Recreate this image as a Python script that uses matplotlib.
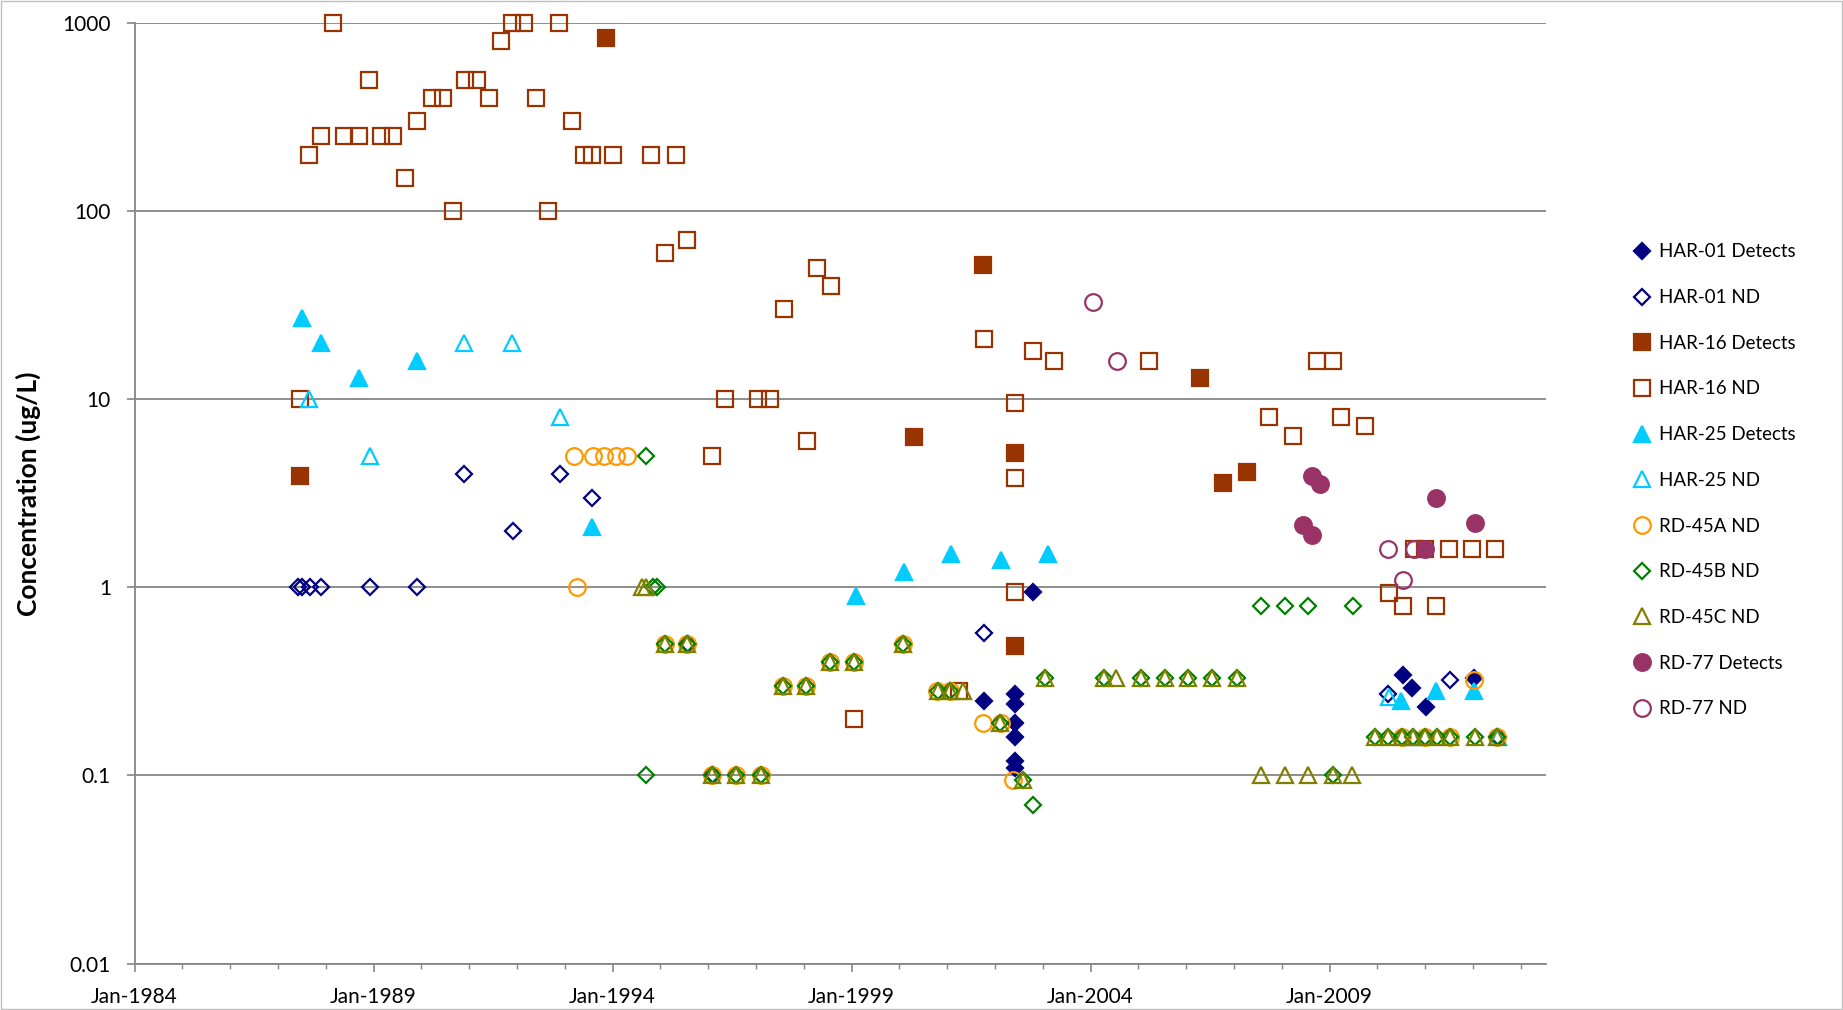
import matplotlib
matplotlib.use("Agg")
import matplotlib.pyplot as plt
from matplotlib.ticker import FixedLocator, FuncFormatter, NullLocator
from matplotlib.patches import Rectangle

plt.rcParams['font.family'] = ['Lato', 'DejaVu Sans']

# sample dates as decimal years, concentrations in ug/L
har01_det_yr = [2001.77, 2002.42, 2002.42, 2002.42, 2002.42, 2002.42, 2002.42, 2002.79,
                2010.54, 2010.73, 2011.01, 2012.03]
har01_det_val = [0.25, 0.27, 0.24, 0.19, 0.16, 0.12, 0.11, 0.94, 0.34, 0.29, 0.23, 0.33]

har01_nd_yr = [1987.43, 1987.50, 1987.68, 1987.91, 1988.92, 1989.91, 1990.90, 1991.91,
               1992.90, 1993.56, 1995.57, 1996.10, 2001.77, 2010.23, 2011.52, 2012.52]
har01_nd_val = [1, 1, 1, 1, 1, 1, 4, 2, 4, 3, 0.5, 0.1, 0.57, 0.27, 0.32, 0.16]

har16_det_yr = [1987.46, 1993.86, 2000.30, 2001.76, 2002.42, 2002.42, 2006.29, 2006.77, 2007.28]
har16_det_val = [3.9, 830, 6.3, 52, 5.2, 0.49, 13, 3.6, 4.1]

har16_nd_yr = [1987.47, 1987.66, 1987.90, 1988.16, 1988.38, 1988.70, 1988.91, 1989.15,
               1989.40, 1989.66, 1989.91, 1990.23, 1990.46, 1990.67, 1990.92, 1991.17,
               1991.41, 1991.66, 1991.90, 1992.14, 1992.40, 1992.66, 1992.89, 1993.16,
               1993.41, 1993.57, 1994.01, 1994.81, 1995.33, 1995.09, 1995.55, 1996.09,
               1996.35, 1997.05, 1997.29, 1997.59, 1998.06, 1998.28, 1998.58, 1999.05,
               2001.24, 2001.77, 2002.42, 2002.42, 2002.42, 2002.79, 2003.23, 2005.22,
               2007.73, 2008.24, 2008.73, 2009.08, 2009.23, 2009.74, 2010.25, 2010.54,
               2010.77, 2011.00, 2011.22, 2011.50, 2011.97, 2012.47]
har16_nd_val = [10, 200, 250, 1000, 250, 250, 500, 250,
                250, 150, 300, 400, 400, 100, 500, 500,
                400, 800, 1000, 1000, 400, 100, 1000, 300,
                200, 200, 200, 200, 200, 60, 70, 5,
                10, 10, 10, 30, 6, 50, 40, 0.2,
                0.28, 21, 9.5, 3.8, 0.95, 18, 16, 16,
                8, 6.4, 16, 16, 8, 7.2, 0.93, 0.8,
                1.6, 1.6, 0.8, 1.6, 1.6, 1.6]

har25_det_yr = [1987.51, 1987.90, 1988.70, 1989.91, 1993.56, 1999.09, 2000.09, 2001.08,
                2002.13, 2003.10, 2010.50, 2011.23, 2012.03]
har25_det_val = [27, 20, 13, 16, 2.1, 0.9, 1.2, 1.5, 1.4, 1.5, 0.25, 0.28, 0.28]

har25_nd_yr = [1987.66, 1988.92, 1990.90, 1991.90, 1992.90, 2010.25, 2010.75, 2012.52]
har25_nd_val = [10, 5, 20, 20, 8, 0.26, 0.16, 0.16]

rd45a_nd_yr = [1993.19, 1993.26, 1993.60, 1993.82, 1994.07, 1994.31, 1995.10, 1995.55,
               1996.09, 1996.59, 1997.11, 1997.56, 1998.05, 1998.55, 1999.05, 2000.08,
               2000.78, 2001.05, 2001.76, 2002.12, 2002.38, 2010.51, 2011.00, 2011.52,
               2012.03, 2012.50]
rd45a_nd_val = [5, 1, 5, 5, 5, 5, 0.5, 0.5,
                0.1, 0.1, 0.1, 0.3, 0.3, 0.4, 0.4, 0.5,
                0.28, 0.28, 0.19, 0.19, 0.095, 0.16, 0.16, 0.16,
                0.32, 0.16]

rd45b_nd_yr = [1994.69, 1994.69, 1994.85, 1994.94, 1995.10, 1995.55, 1996.09, 1996.59,
               1997.11, 1997.56, 1998.05, 1998.55, 1999.05, 2000.08, 2000.81, 2001.05,
               2002.10, 2002.58, 2002.80, 2003.05, 2004.28, 2005.05, 2005.55, 2006.04,
               2006.54, 2007.07, 2007.57, 2008.06, 2008.54, 2009.07, 2009.50, 2009.95,
               2010.23, 2010.51, 2010.75, 2011.00, 2011.24, 2011.52, 2012.05, 2012.50]
rd45b_nd_val = [5, 0.1, 1, 1, 0.5, 0.5, 0.1, 0.1,
                0.1, 0.3, 0.3, 0.4, 0.4, 0.5, 0.28, 0.28,
                0.19, 0.095, 0.07, 0.33, 0.33, 0.33, 0.33, 0.33,
                0.33, 0.33, 0.8, 0.8, 0.8, 0.1, 0.8, 0.16,
                0.16, 0.16, 0.16, 0.16, 0.16, 0.16, 0.16, 0.16]

rd45c_nd_yr = [1994.61, 1994.71, 1995.10, 1995.55, 1996.09, 1996.59, 1997.11, 1997.56,
               1998.05, 1998.55, 1999.05, 2000.08, 2000.81, 2001.05, 2001.34, 2002.10,
               2002.58, 2003.05, 2004.28, 2004.53, 2005.05, 2005.55, 2006.04, 2006.54,
               2007.07, 2007.57, 2008.07, 2008.54, 2009.07, 2009.46, 2009.95, 2010.23,
               2010.51, 2010.75, 2011.00, 2011.24, 2011.52, 2012.05, 2012.50]
rd45c_nd_val = [1, 1, 0.5, 0.5, 0.1, 0.1, 0.1, 0.3,
                0.3, 0.4, 0.4, 0.5, 0.28, 0.28, 0.28, 0.19,
                0.095, 0.33, 0.33, 0.33, 0.33, 0.33, 0.33, 0.33,
                0.33, 0.1, 0.1, 0.1, 0.1, 0.1, 0.16, 0.16,
                0.16, 0.16, 0.16, 0.16, 0.16, 0.16, 0.16]

rd77_det_yr = [2008.45, 2008.64, 2008.64, 2008.80, 2011.00, 2011.23, 2012.04]
rd77_det_val = [2.15, 1.9, 3.9, 3.55, 1.6, 3.0, 2.2]

rd77_nd_yr = [2004.06, 2004.55, 2010.23, 2010.54, 2010.77]
rd77_nd_val = [33, 16, 1.6, 1.1, 1.6]

year_ticks = list(range(1984, 2010, 5))
year_minor = list(range(1985, 2014))
conc_ticks = [0.01, 0.1, 1, 10, 100, 1000]

navy = '#000080'
brown = '#993300'
cyan = '#00CCFF'
orange = '#FF9900'
green = '#008000'
olive = '#808000'
plum = '#993366'
grey = '#868686'

series = [
    ('HAR-01 Detects', har01_det_yr, har01_det_val, 'D', navy, True, 8.6),
    ('HAR-01 ND', har01_nd_yr, har01_nd_val, 'D', navy, False, 8.6),
    ('HAR-16 Detects', har16_det_yr, har16_det_val, 's', brown, True, 11),
    ('HAR-16 ND', har16_nd_yr, har16_nd_val, 's', brown, False, 11),
    ('HAR-25 Detects', har25_det_yr, har25_det_val, '^', cyan, True, 11.5),
    ('HAR-25 ND', har25_nd_yr, har25_nd_val, '^', cyan, False, 11.5),
    ('RD-45A ND', rd45a_nd_yr, rd45a_nd_val, 'o', orange, False, 12),
    ('RD-45B ND', rd45b_nd_yr, rd45b_nd_val, 'D', green, False, 8.6),
    ('RD-45C ND', rd45c_nd_yr, rd45c_nd_val, '^', olive, False, 11.5),
    ('RD-77 Detects', rd77_det_yr, rd77_det_val, 'o', plum, True, 12),
    ('RD-77 ND', rd77_nd_yr, rd77_nd_val, 'o', plum, False, 12),
]

fig = plt.figure(figsize=(18.43, 10.10), dpi=100)
ax = fig.add_axes([0.0730, 0.0460, 0.7659, 0.9312])

for label, xs, ys, mk, col, filled, ms in series:
    ax.plot(xs, ys, ls='none', marker=mk, ms=ms, mec=col,
            mfc=col if filled else 'none', mew=1.6, label=label, clip_on=False)

ax.set_yscale('log')
ax.set_ylim(0.01, 1000)
ax.set_xlim(1984, 2013.53)

ax.yaxis.set_major_locator(FixedLocator(conc_ticks))
ax.yaxis.set_minor_locator(NullLocator())
ax.yaxis.set_major_formatter(FuncFormatter(lambda v, p: f"{v:g}"))
ax.xaxis.set_major_locator(FixedLocator(year_ticks))
ax.xaxis.set_minor_locator(FixedLocator(year_minor))
ax.xaxis.set_major_formatter(FuncFormatter(lambda v, p: f"Jan-{int(round(v))}"))

ax.yaxis.grid(True, which='major', color=grey, lw=1.3)
ax.set_axisbelow(True)
for s in ['top', 'right']:
    ax.spines[s].set_visible(False)
for s in ['left', 'bottom']:
    ax.spines[s].set_color(grey)
    ax.spines[s].set_linewidth(1.3)

ax.tick_params(axis='both', which='major', direction='out', length=6, width=1.2,
               color=grey, labelsize=15, pad=11)
ax.tick_params(axis='x', which='minor', direction='out', length=3.5, width=1, color=grey)

ax.set_ylabel('Concentration (ug/L)', fontsize=19, fontweight='bold', va='center')
ax.yaxis.set_label_coords(-0.0755, 0.5)

fig.legend(loc='upper left', bbox_to_anchor=(0.886, 0.759), frameon=False, fontsize=13.5,
           labelspacing=1.53, handlelength=1.0, handletextpad=0.4, borderpad=0,
           borderaxespad=0, numpoints=1)

fig.patches.append(Rectangle((0.0005, 0.001), 0.999, 0.998, transform=fig.transFigure,
                             fill=False, ec='#BFBFBF', lw=1))

fig.savefig('out.png', dpi=100)
